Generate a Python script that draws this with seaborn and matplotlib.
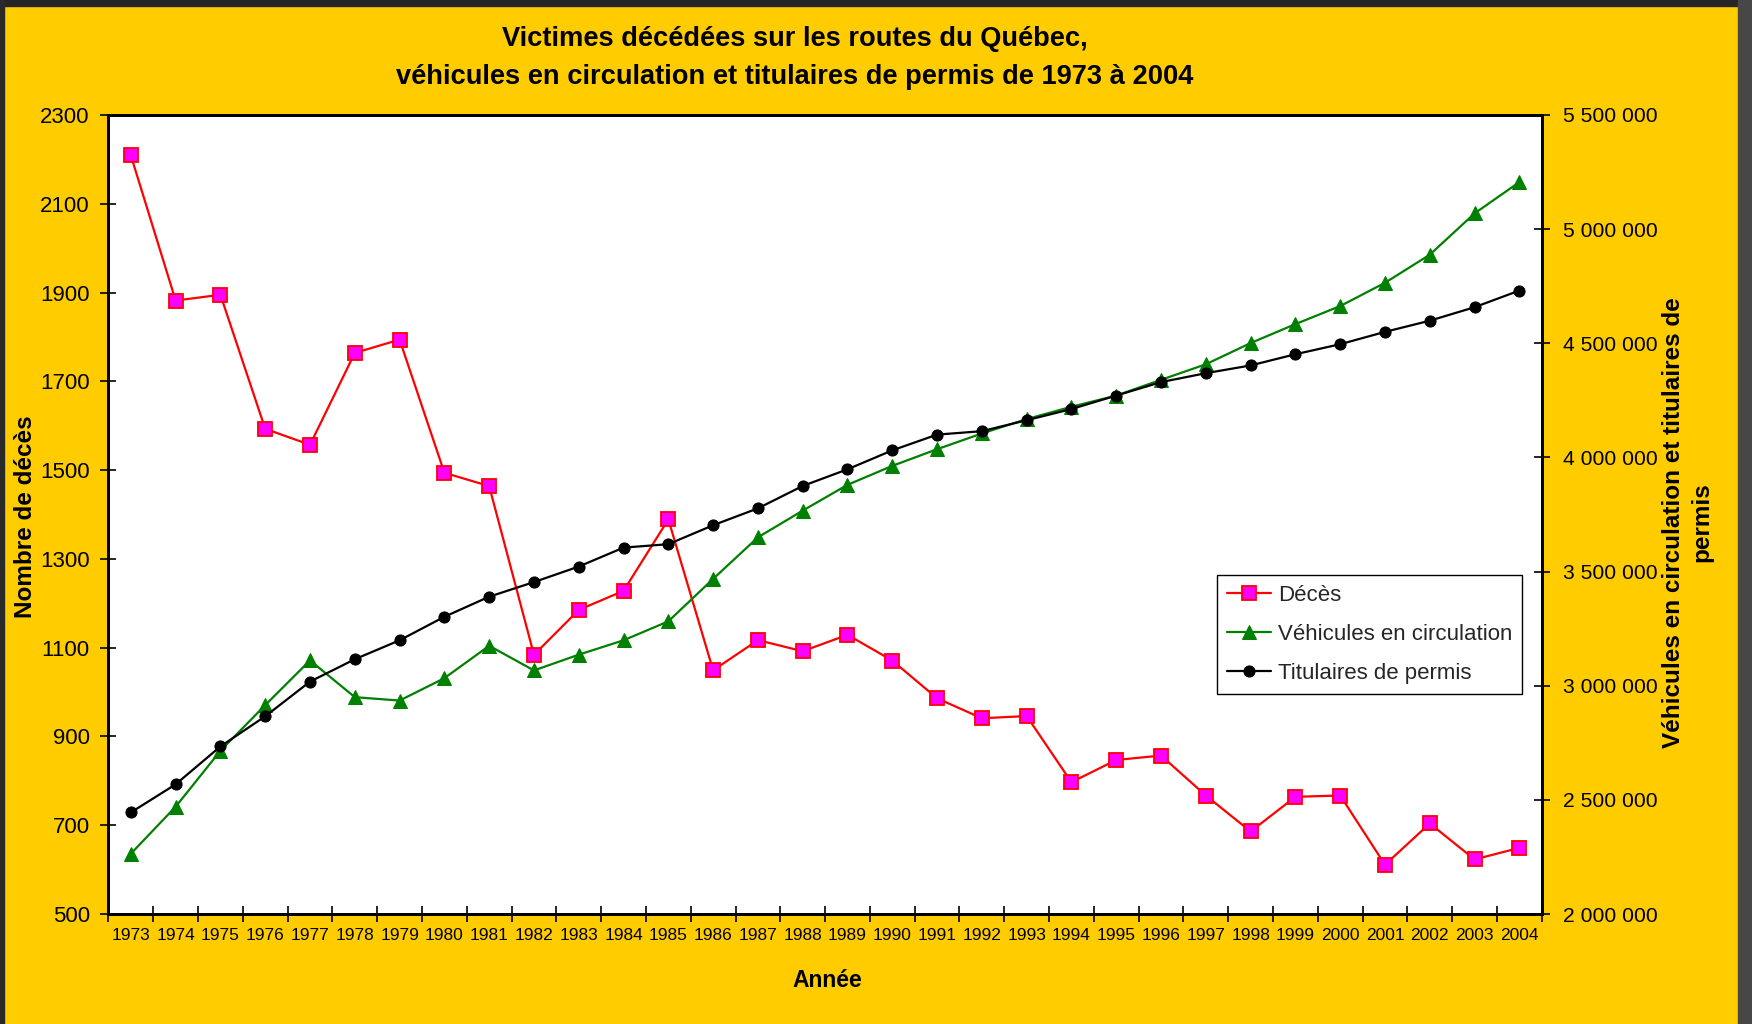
import numpy as np
import pandas as pd
import matplotlib
matplotlib.use('Agg')
import matplotlib.pyplot as plt
import seaborn as sns
from matplotlib.ticker import FuncFormatter
from matplotlib.patches import Rectangle

# donnees
annees = ['1973', '1974', '1975', '1976', '1977', '1978', '1979', '1980',
          '1981', '1982', '1983', '1984', '1985', '1986', '1987', '1988',
          '1989', '1990', '1991', '1992', '1993', '1994', '1995', '1996',
          '1997', '1998', '1999', '2000', '2001', '2002', '2003', '2004']
deces = [2209, 1882, 1895, 1593, 1557, 1764, 1794, 1494, 1464, 1084, 1185,
         1228, 1389, 1049, 1117, 1092, 1129, 1071, 986, 941, 946, 797, 847,
         857, 767, 686, 764, 767, 611, 704, 623, 649]
vehicules = [2264000, 2470000, 2715000, 2915000, 3111000, 2950000, 2935000,
             3033000, 3175000, 3067000, 3136000, 3199000, 3282000, 3468000,
             3650000, 3767000, 3880000, 3963000, 4036000, 4105000, 4168000,
             4222000, 4271000, 4340000, 4408000, 4501000, 4584000, 4663000,
             4765000, 4888000, 5069000, 5206000]
permis = [2445000, 2568000, 2734000, 2866000, 3018000, 3116000, 3199000,
          3302000, 3390000, 3454000, 3522000, 3605000, 3620000, 3703000,
          3777000, 3875000, 3948000, 4031000, 4100000, 4115000, 4163000,
          4212000, 4271000, 4330000, 4369000, 4403000, 4452000, 4496000,
          4550000, 4599000, 4658000, 4731000]

df = pd.DataFrame({'annee': annees, 'deces': deces,
                   'vehicules': vehicules, 'permis': permis})
df['pos'] = np.arange(len(df))

sns.set_theme(style='white')
plt.rcParams['font.family'] = ['Liberation Sans', 'DejaVu Sans']

fig = plt.figure(figsize=(17.52, 10.24), dpi=100, facecolor='#FFCC00')
ax = fig.add_axes([0.0619, 0.1074, 0.8181, 0.7803])
ax.set_facecolor('white')
ax2 = ax.twinx()

sns.lineplot(data=df, x='pos', y='deces', ax=ax, color='#FF0000', lw=1.6,
             marker='s', markersize=9.5, markerfacecolor='#FF00FF',
             markeredgecolor='#FF0000', markeredgewidth=1.3, label='Décès', legend=False)
sns.lineplot(data=df, x='pos', y='vehicules', ax=ax2, color='#008000', lw=1.6,
             marker='^', markersize=10, markerfacecolor='#008000',
             markeredgecolor='#008000', label='Véhicules en circulation', legend=False)
sns.lineplot(data=df, x='pos', y='permis', ax=ax2, color='black', lw=1.6,
             marker='o', markersize=8, markerfacecolor='black',
             markeredgecolor='black', label='Titulaires de permis', legend=False)

ax.set_xlabel('')
ax.set_ylabel('')
ax2.set_ylabel('')

# axe x : graduations entre les categories
ax.set_xlim(-0.5, len(annees) - 0.5)
ax.set_xticks(np.arange(len(annees) + 1) - 0.5)
ax.set_xticks(df['pos'], minor=True)
ax.set_xticklabels(annees, minor=True)
ax.tick_params(axis='x', which='major', direction='inout', length=11, width=1.2,
               color='black', labelbottom=False, bottom=True)
ax.tick_params(axis='x', which='minor', length=0, pad=10, labelsize=12.5,
               labelcolor='black', bottom=True)

ax.set_ylim(500, 2300)
ax.set_yticks(np.arange(500, 2301, 200))
ax.tick_params(axis='y', direction='inout', length=11, width=1.2, color='black',
               labelsize=16, labelcolor='black', pad=8, left=True)

ax2.set_ylim(2000000, 5500000)
ax2.set_yticks(np.arange(2000000, 5500001, 500000))
ax2.yaxis.set_major_formatter(FuncFormatter(lambda v, p: f'{int(v):,}'.replace(',', ' ')))
ax2.tick_params(axis='y', direction='inout', length=11, width=1.2, color='black',
                labelsize=15.2, labelcolor='black', pad=10, right=True)

for a in (ax, ax2):
    for s in a.spines.values():
        s.set_color('black')
        s.set_linewidth(2)
        s.set_visible(True)
ax.grid(False)
ax2.grid(False)

h1, l1 = ax.get_legend_handles_labels()
h2, l2 = ax2.get_legend_handles_labels()
leg = ax2.legend(h1 + h2, l1 + l2, loc='upper left', bbox_to_anchor=(0.6946, 0.4385),
                 bbox_transform=fig.transFigure, frameon=True, fancybox=False,
                 framealpha=1, edgecolor='black', facecolor='white',
                 prop={'family': 'Liberation Sans', 'size': 16}, borderaxespad=0,
                 labelspacing=0.8, handlelength=2, handletextpad=0.3, borderpad=0.45)
leg.get_frame().set_linewidth(1)

fig.text(0.4538, 0.943, 'Victimes décédées sur les routes du Québec,\n'
         'véhicules en circulation et titulaires de permis de 1973 à 2004',
         ha='center', va='center', fontsize=19.6, fontweight='bold',
         linespacing=1.6, color='black')
fig.text(0.472, 0.042, 'Année', ha='center', va='center', fontsize=16.5,
         fontweight='bold', color='black')
fig.text(0.0143, 0.495, 'Nombre de décès', ha='center', va='center', rotation=90,
         fontsize=17.5, fontweight='bold', color='black')
fig.text(0.9633, 0.49, 'Véhicules en circulation et titulaires de\npermis',
         ha='center', va='center', rotation=90, multialignment='center',
         fontsize=17.5, fontweight='bold', linespacing=1.25, color='black')

# bordure sombre de la capture
fig.patches.append(Rectangle((0, 1 - 6 / 1024), 1, 6 / 1024, transform=fig.transFigure,
                             color='#262626', zorder=10))
fig.patches.append(Rectangle((0, 0), 4 / 1752, 1, transform=fig.transFigure,
                             color='#2a2a2a', zorder=10))
fig.patches.append(Rectangle((1 - 14 / 1752, 0), 14 / 1752, 1, transform=fig.transFigure,
                             color='#474747', zorder=10))

fig.savefig('out.png', dpi=100, facecolor=fig.get_facecolor())
